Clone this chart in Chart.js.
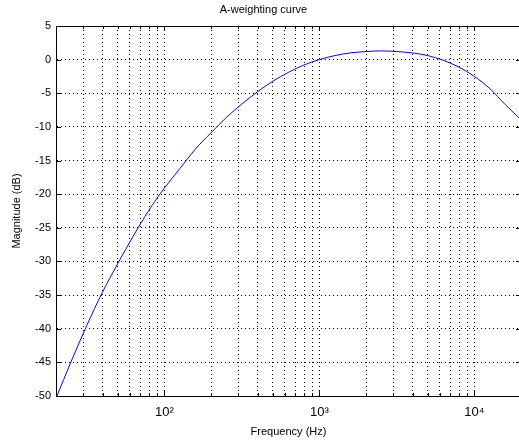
<!DOCTYPE html>
<html>
<head>
<meta charset="utf-8">
<script src="https://cdn.jsdelivr.net/npm/chart.js@4"></script>
<style>
  html, body { margin: 0; padding: 0; background: #fff; overflow: hidden; }
  #wrap { width: 519px; height: 442px; overflow: hidden; }
  #box { width: 530px; height: 442px; }
</style>
</head>
<body>
<div id="wrap"><div id="box"><canvas id="chart"></canvas></div></div>
<script>
// values (Hz, dB), third-octave steps
const freqs = [19.95, 25.12, 31.62, 39.81, 50.12, 63.1, 79.43, 100, 125.9, 158.5, 199.5, 251.2, 316.2,
  398.1, 501.2, 631, 794.3, 1000, 1259, 1585, 1995, 2512, 3162, 3981, 5012, 6310, 7943,
  10000, 12590, 15850, 19950]
const gainDb = [-50.4, -44.8, -39.5, -34.6, -30.3, -26.2, -22.4, -19.1, -16.2, -13.3, -10.9, -8.6, -6.6,
  -4.8, -3.2, -1.9, -0.8, 0.0, 0.6, 1.0, 1.2, 1.3, 1.2, 1.0, 0.6, -0.1, -1.1,
  -2.5, -4.3, -6.7, -8.9]
const xTicks = [20, 30, 40, 50, 60, 70, 80, 90, 100, 200, 300, 400, 500, 600, 700, 800, 900,
  1000, 2000, 3000, 4000, 5000, 6000, 7000, 8000, 9000, 10000, 20000]
const xLabels = { 100: '10²', 1000: '10³', 10000: '10⁴' }
const yTicks = [-50, -45, -40, -35, -30, -25, -20, -15, -10, -5, 0, 5]

const font = { family: 'Liberation Sans, Arial, sans-serif', size: 11 }

// MATLAB style box: top line plus little inward tick marks
const boxTicks = {
  id: 'boxTicks',
  afterDraw(chart) {
    const { ctx, chartArea: a, scales } = chart
    ctx.save()
    ctx.strokeStyle = '#000'
    ctx.lineWidth = 1
    ctx.beginPath()
    ctx.moveTo(a.left, a.top + 0.5)
    ctx.lineTo(a.right, a.top + 0.5)
    xTicks.forEach((v) => {
      const x = Math.round(scales.x.getPixelForValue(v)) + 0.5
      const len = xLabels[v] ? 5 : 3
      ctx.moveTo(x, a.bottom)
      ctx.lineTo(x, a.bottom - len)
      ctx.moveTo(x, a.top)
      ctx.lineTo(x, a.top + len)
    })
    yTicks.forEach((v) => {
      const y = Math.round(scales.y.getPixelForValue(v)) + 0.5
      ctx.moveTo(a.left, y)
      ctx.lineTo(a.left + 5, y)
      ctx.moveTo(a.right, y)
      ctx.lineTo(a.right - 5, y)
    })
    ctx.stroke()
    ctx.restore()
  },
}

const ctx = document.getElementById('chart').getContext('2d')
const myChart = new Chart(ctx, {
  type: 'line',
  data: {
    datasets: [
      {
        label: 'A-weighting',
        data: freqs.map((f, i) => ({ x: f, y: gainDb[i] })),
        borderColor: 'rgb(0, 0, 255)',
        borderWidth: 1,
        pointRadius: 0,
        cubicInterpolationMode: 'monotone',
      },
    ],
  },
  options: {
    responsive: true,
    maintainAspectRatio: false,
    animation: false,
    layout: { padding: { left: 0, right: 3, top: 0, bottom: 0 } },
    plugins: {
      legend: { display: false },
      tooltip: { enabled: false },
      title: {
        display: true,
        text: 'A-weighting curve',
        color: '#000',
        font: { ...font, weight: 'normal' },
        padding: { top: 3, bottom: 9.8 },
      },
    },
    scales: {
      x: {
        type: 'logarithmic',
        min: 20,
        max: 20000,
        afterBuildTicks: (scale) => {
          scale.ticks = xTicks.map((v) => ({ value: v }))
        },
        afterFit: (scale) => {
          scale.height = 46
        },
        ticks: {
          autoSkip: false,
          maxRotation: 0,
          color: '#000',
          font: { ...font, size: 13 },
          padding: 9,
          callback: (value) => xLabels[value] || '',
        },
        grid: {
          color: (c) => (c.tick && (c.tick.value === 20 || c.tick.value === 20000) ? 'rgba(0,0,0,0)' : '#000'),
          drawTicks: false,
        },
        border: { display: true, color: '#000', width: 1, dash: [1, 3] },
        title: {
          display: true,
          text: 'Frequency (Hz)',
          color: '#000',
          font,
          padding: { top: 0, bottom: 3 },
        },
      },
      y: {
        min: -50,
        max: 5,
        afterBuildTicks: (scale) => {
          scale.ticks = yTicks.map((v) => ({ value: v }))
        },
        afterFit: (scale) => {
          scale.width = 56
        },
        ticks: { color: '#000', font, padding: 5 },
        grid: {
          color: (c) => (c.tick && (c.tick.value === -50 || c.tick.value === 5) ? 'rgba(0,0,0,0)' : '#000'),
          drawTicks: false,
        },
        border: { display: true, color: '#000', width: 1, dash: [1, 3] },
        title: {
          display: true,
          text: 'Magnitude (dB)',
          color: '#000',
          font,
          padding: { top: 10, bottom: 0 },
        },
      },
    },
  },
  plugins: [boxTicks],
})
</script>
</body>
</html>
